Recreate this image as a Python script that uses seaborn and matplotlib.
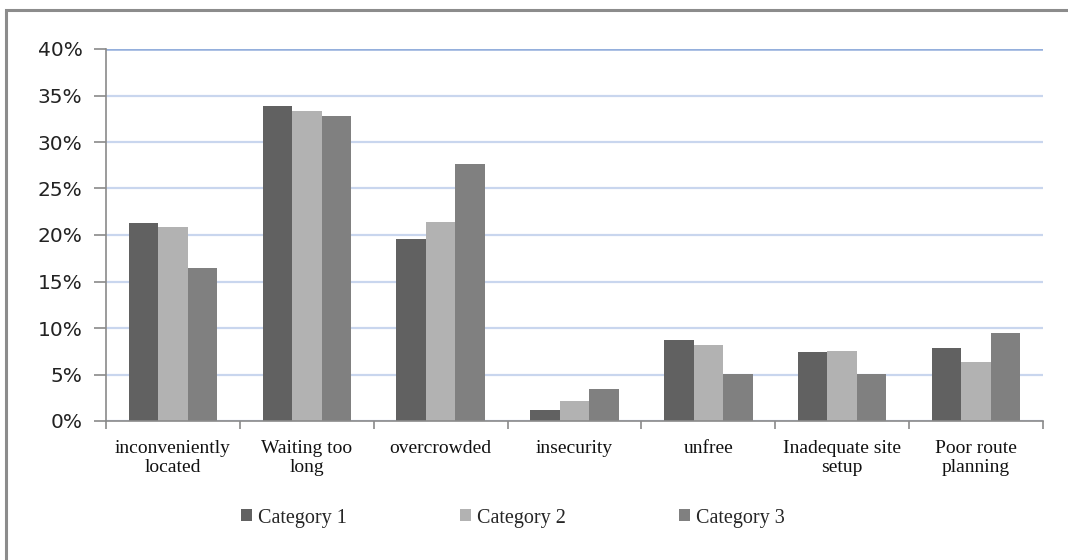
import numpy as np
import pandas as pd
import matplotlib
matplotlib.use("Agg")
import matplotlib.pyplot as plt
from matplotlib.patches import Patch
from matplotlib.lines import Line2D
from matplotlib.ticker import FixedLocator, PercentFormatter
import seaborn as sns

# Reasons for dissatisfaction, share of respondents (%)
reasons = ["inconveniently\nlocated", "Waiting too\nlong", "overcrowded", "insecurity",
           "unfree", "Inadequate site\nsetup", "Poor route\nplanning"]
series_names = ["Category 1", "Category 2", "Category 3"]
category_1 = [21.3, 33.9, 19.6, 1.2, 8.7, 7.4, 7.8]
category_2 = [20.9, 33.3, 21.4, 2.2, 8.2, 7.5, 6.3]
category_3 = [16.4, 32.8, 27.6, 3.4, 5.1, 5.1, 9.5]
y_ticks = [0, 5, 10, 15, 20, 25, 30, 35, 40]
colors = ["#616161", "#b2b2b2", "#808080"]

df = pd.DataFrame({
    "reason": reasons * 3,
    "series": np.repeat(series_names, len(reasons)),
    "value": category_1 + category_2 + category_3,
})

sns.set_theme(style="white")
plt.rcParams["font.family"] = ["DejaVu Sans"]

fig = plt.figure(figsize=(10.68, 5.6), dpi=100)
ax = fig.add_axes([106 / 1068, 1 - 421 / 560, (1043 - 106) / 1068, (421 - 49) / 560])

sns.barplot(data=df, x="reason", y="value", hue="series", palette=colors,
            width=0.66, gap=0, dodge=True, ax=ax, legend=False,
            saturation=1, edgecolor="none", linewidth=0, zorder=3)

ax.set_ylim(0, 40)
ax.set_xlim(-0.5, len(reasons) - 0.5)
ax.yaxis.set_major_locator(FixedLocator(y_ticks))
ax.yaxis.set_major_formatter(PercentFormatter(decimals=0))
ax.set_xlabel("")
ax.set_ylabel("")

# horizontal gridlines
ax.grid(axis="y", color="#c9d6ee", linewidth=1.6, zorder=0)
ax.grid(axis="x", visible=False)
ax.set_axisbelow(True)
ax.axhline(40, color="#94afdc", linewidth=1.8, zorder=1)

for side in ["top", "right"]:
    ax.spines[side].set_visible(False)
for side in ["left", "bottom"]:
    ax.spines[side].set_color("#8a8a8a")
    ax.spines[side].set_linewidth(1.2)
    ax.spines[side].set_zorder(4)

ax.tick_params(axis="y", which="major", direction="out", length=9, width=1.2,
               color="#8a8a8a", labelsize=14.5, labelcolor="#222222", pad=8, left=True)
ax.set_xticks(np.arange(len(reasons)))
ax.set_xticklabels(reasons, family="Liberation Serif", fontsize=14, color="#111111")
for lbl in ax.get_xticklabels():
    lbl.set_linespacing(1.15)
ax.set_xticks(np.arange(-0.5, len(reasons)), minor=True)
ax.tick_params(axis="x", which="major", length=0, pad=14, bottom=True)
ax.tick_params(axis="x", which="minor", direction="out", length=6, width=1.2,
               color="#8a8a8a", bottom=True)

handles = [Patch(facecolor=c, edgecolor="none") for c in colors]
fig.legend(handles, series_names, loc="center", bbox_to_anchor=(513 / 1068, 1 - 518 / 560),
           ncol=3, frameon=False, prop={"family": "Liberation Serif", "size": 14.5},
           handlelength=0.55, handleheight=0.55, handletextpad=0.3, columnspacing=5.6)

# chart border (left and top edges)
bx, by = 6 / 1068, 1 - 10 / 560
fig.add_artist(Line2D([bx, bx, 1.01], [-0.01, by, by], transform=fig.transFigure,
                      color="#8c8c8c", linewidth=2.2, solid_joinstyle="miter"))

fig.savefig("out.png", dpi=100, facecolor="white")
